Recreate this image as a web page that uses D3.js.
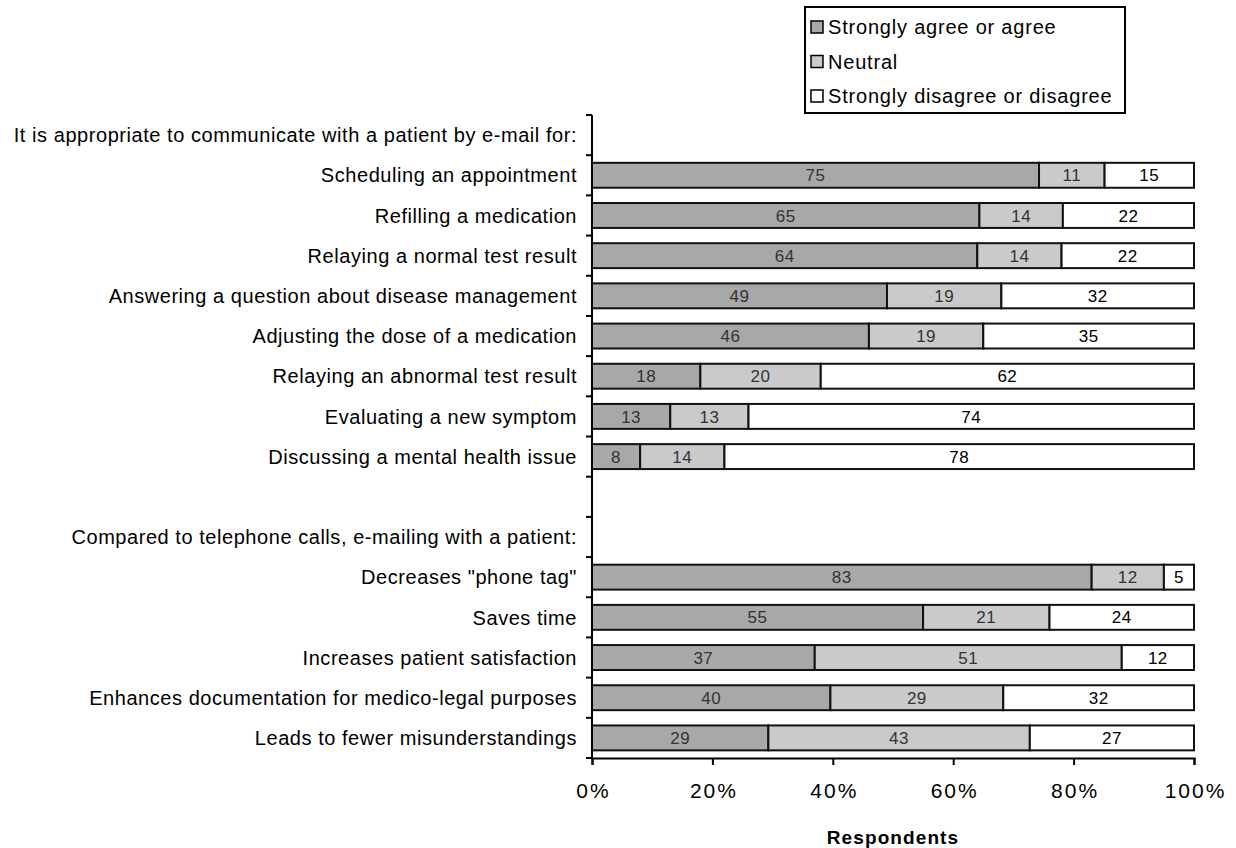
<!DOCTYPE html>
<html>
<head>
<meta charset="utf-8">
<script src="https://cdn.jsdelivr.net/npm/d3@7"></script>
<style>
  body { margin: 0; background: #fff; }
  svg { display: block; font-family: "Liberation Sans", Arial, sans-serif; }
</style>
</head>
<body>
<div id="chart"></div>
<script>
// rows, top to bottom (headers and a blank spacer take a slot too)
const rowLabels = [
  "It is appropriate to communicate with a patient by e-mail for:",
  "Scheduling an appointment",
  "Refilling a medication",
  "Relaying a normal test result",
  "Answering a question about disease management",
  "Adjusting the dose of a medication",
  "Relaying an abnormal test result",
  "Evaluating a new symptom",
  "Discussing a mental health issue",
  "",
  "Compared to telephone calls, e-mailing with a patient:",
  "Decreases \"phone tag\"",
  "Saves time",
  "Increases patient satisfaction",
  "Enhances documentation for medico-legal purposes",
  "Leads to fewer misunderstandings"
];
// null = no bar in that row
const agree    = [null, 75, 65, 64, 49, 46, 18, 13, 8, null, null, 83, 55, 37, 40, 29];
const neutral  = [null, 11, 14, 14, 19, 19, 20, 13, 14, null, null, 12, 21, 51, 29, 43];
const disagree = [null, 15, 22, 22, 32, 35, 62, 74, 78, null, null, 5, 24, 12, 32, 27];

const seriesNames = ["Strongly agree or agree", "Neutral", "Strongly disagree or disagree"];
const seriesFill = ["#a8a8a8", "#cacaca", "#ffffff"];
const seriesText = ["#333", "#333", "#000"];
const xTicks = [0, 0.2, 0.4, 0.6, 0.8, 1];

const width = 1236, height = 848;
const margin = { top: 115, right: 42, bottom: 90, left: 592 };

const svg = d3.select("#chart").append("svg")
  .attr("width", width)
  .attr("height", height);

const x = d3.scaleLinear().domain([0, 1]).range([margin.left, width - margin.right]);
const y = d3.scaleBand()
  .domain(d3.range(rowLabels.length))
  .range([margin.top, height - margin.bottom])
  .paddingInner(0.38)
  .paddingOuter(0.19);

// build stacked rows, normalised to 100%
let rows = [];
rowLabels.forEach((lab, i) => {
  if (agree[i] == null) return;
  let vals = [agree[i], neutral[i], disagree[i]];
  let total = d3.sum(vals);
  let x0 = 0;
  vals.forEach((v, k) => {
    rows.push({ row: i, k: k, v: v, x0: x0 / total, x1: (x0 + v) / total });
    x0 += v;
  });
});

const bars = svg.append("g");
bars.selectAll("rect")
  .data(rows)
  .join("rect")
  .attr("x", d => x(d.x0))
  .attr("y", d => y(d.row))
  .attr("width", d => x(d.x1) - x(d.x0))
  .attr("height", y.bandwidth())
  .attr("fill", d => seriesFill[d.k])
  .attr("stroke", "#111")
  .attr("stroke-width", 2);

bars.selectAll("text")
  .data(rows)
  .join("text")
  .attr("x", d => (x(d.x0) + x(d.x1)) / 2)
  .attr("y", d => y(d.row) + y.bandwidth() / 2)
  .attr("dy", "0.36em")
  .attr("text-anchor", "middle")
  .attr("font-size", 17)
  .attr("letter-spacing", 0.5)
  .attr("fill", d => seriesText[d.k])
  .text(d => d.v);

// y axis: line, ticks at row boundaries, labels
const step = y.step();
const yAxis = svg.append("g");
yAxis.append("line")
  .attr("x1", margin.left).attr("x2", margin.left)
  .attr("y1", margin.top).attr("y2", height - margin.bottom)
  .attr("stroke", "#000").attr("stroke-width", 2);
yAxis.selectAll("line.tick")
  .data(d3.range(rowLabels.length + 1))
  .join("line")
  .attr("class", "tick")
  .attr("x1", margin.left - 6).attr("x2", margin.left)
  .attr("y1", i => margin.top + i * step)
  .attr("y2", i => margin.top + i * step)
  .attr("stroke", "#000").attr("stroke-width", 2);
yAxis.selectAll("text")
  .data(rowLabels)
  .join("text")
  .attr("x", margin.left - 15)
  .attr("y", (d, i) => y(i) + y.bandwidth() / 2)
  .attr("dy", "0.36em")
  .attr("text-anchor", "end")
  .attr("font-size", 20)
  .attr("letter-spacing", 0.55)
  .attr("fill", "#000")
  .text(d => d);

// x axis
const xAxis = svg.append("g")
  .attr("transform", `translate(0,${height - margin.bottom})`)
  .call(d3.axisBottom(x).tickValues(xTicks).tickFormat(d3.format(".0%")).tickSize(7).tickPadding(18));
xAxis.select(".domain").attr("stroke", "#000").attr("stroke-width", 2);
xAxis.selectAll(".tick line").attr("stroke", "#000").attr("stroke-width", 2);
xAxis.selectAll(".tick text")
  .attr("font-family", "\"Liberation Sans\", Arial, sans-serif")
  .attr("font-size", 21)
  .attr("letter-spacing", 2)
  .attr("dx", 1)
  .attr("fill", "#000");

svg.append("text")
  .attr("x", (x(0) + x(1)) / 2)
  .attr("y", 844)
  .attr("text-anchor", "middle")
  .attr("font-size", 19)
  .attr("letter-spacing", 1.1)
  .attr("font-weight", "bold")
  .text("Respondents");

// legend
const legend = svg.append("g").attr("transform", "translate(805,7)");
legend.append("rect")
  .attr("width", 320).attr("height", 106)
  .attr("fill", "#fff").attr("stroke", "#000").attr("stroke-width", 2);
const item = legend.selectAll("g")
  .data(seriesNames)
  .join("g")
  .attr("transform", (d, i) => `translate(6,${20 + i * 34.5})`);
item.append("rect")
  .attr("y", -6).attr("width", 12).attr("height", 12)
  .attr("fill", (d, i) => seriesFill[i])
  .attr("stroke", "#000").attr("stroke-width", 1.5);
item.append("text")
  .attr("x", 17)
  .attr("dy", "0.36em")
  .attr("font-size", 20)
  .attr("letter-spacing", 0.8)
  .text(d => d);
</script>
</body>
</html>
